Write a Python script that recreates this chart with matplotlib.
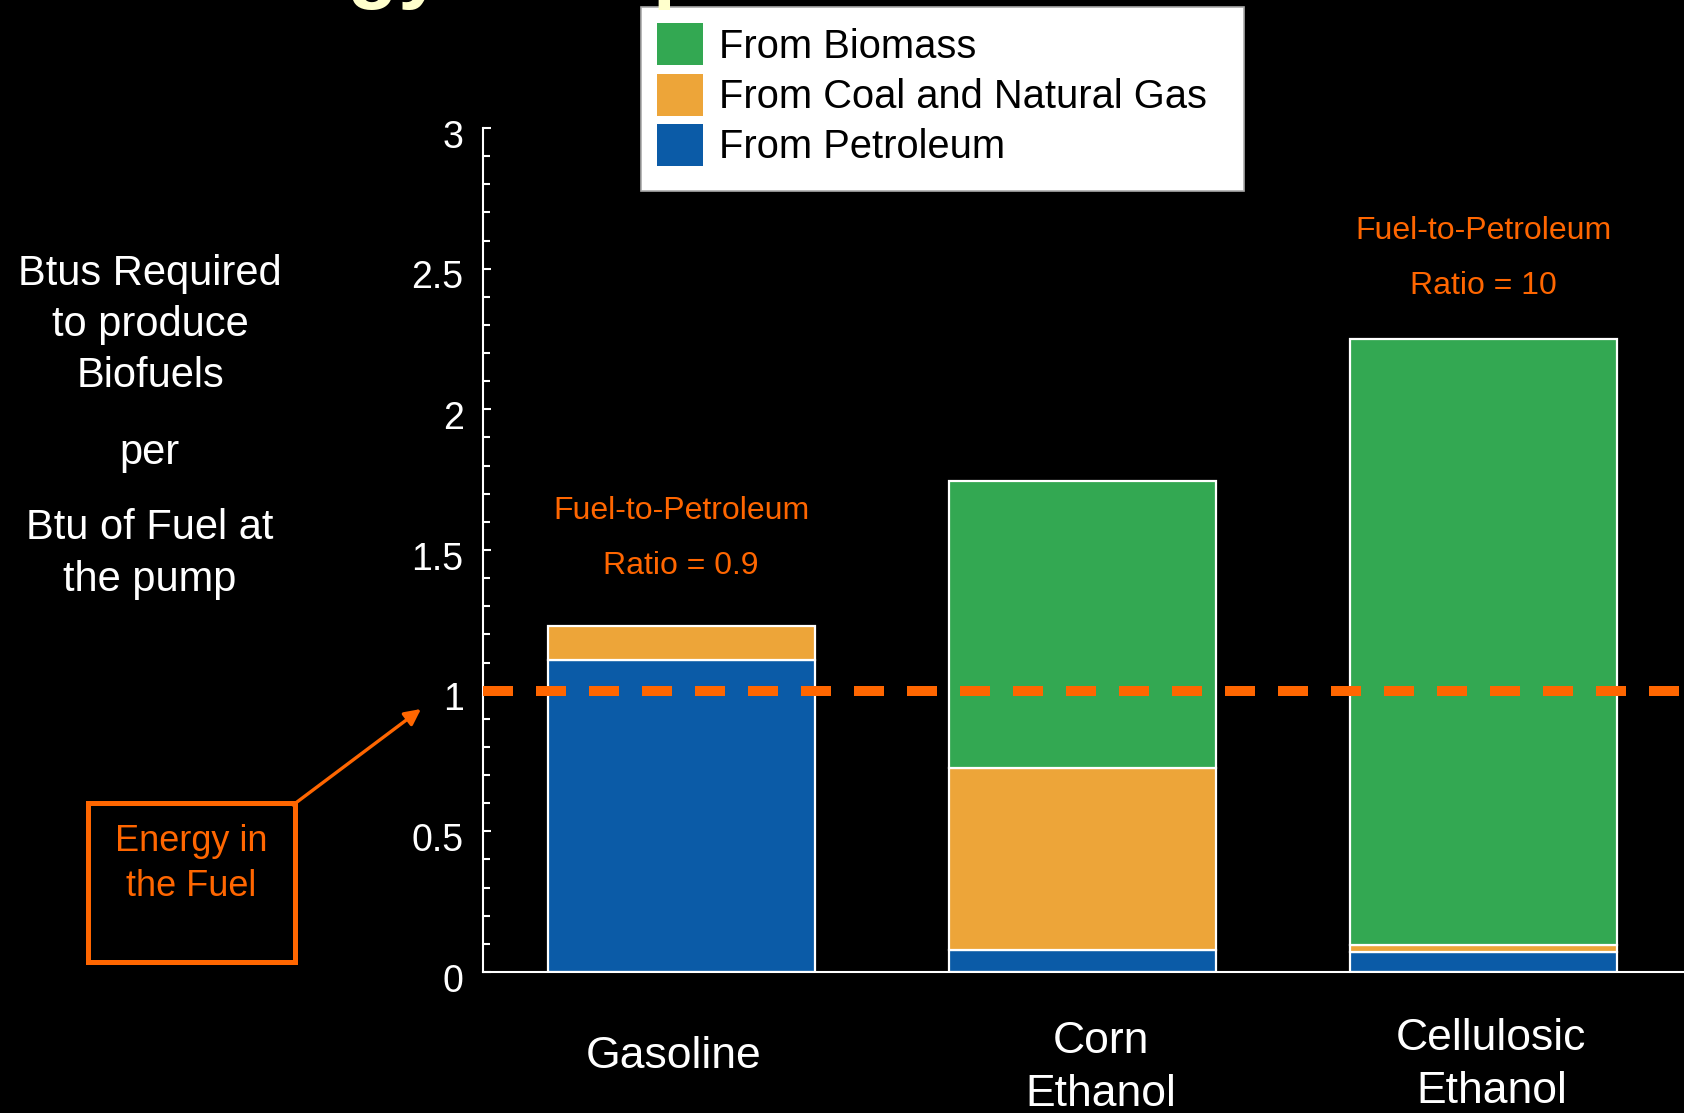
import matplotlib
matplotlib.use('Agg')
import matplotlib.pyplot as plt
from matplotlib.patches import Patch, Rectangle, FancyArrowPatch
from matplotlib.transforms import ScaledTranslation
import numpy as np

plt.rcParams['font.family'] = ['Liberation Sans', 'DejaVu Sans']

# energy inputs per Btu of fuel delivered at the pump
fuels = ['Gasoline', 'Corn\nEthanol', 'Cellulosic\nEthanol']
from_petroleum = [1.11, 0.077, 0.072]
from_coal_gas = [0.12, 0.648, 0.025]
from_biomass = [0.0, 1.02, 2.153]
energy_in_fuel = 1.0
ratio_notes = ['Fuel-to-Petroleum\nRatio = 0.9', '', 'Fuel-to-Petroleum\nRatio = 10']
note_heights = [1.54, 0.0, 2.535]
yticks = [0, 0.5, 1, 1.5, 2, 2.5, 3]
ytick_labels = ['0', '0.5', '1', '1.5', '2', '2.5', '3']
series_names = ['From Biomass', 'From Coal and Natural Gas', 'From Petroleum']

GREEN = '#33A852'
AMBER = '#EDA539'
BLUE = '#0B5BA7'
HILITE = '#FF6600'

W, H = 1684, 1113
fig = plt.figure(figsize=(W / 100, H / 100), dpi=100, facecolor='black')
ax = fig.add_axes([483 / W, 1 - 972 / H, 1 - 483 / W, (972 - 128) / H])
ax.set_facecolor('black')


def shift(artist, dx, dy):
    """Move a text artist by (dx, dy) pixels."""
    artist.set_transform(artist.get_transform()
                         + ScaledTranslation(dx / 100, dy / 100, fig.dpi_scale_trans))


x = np.arange(len(fuels))
petro = np.array(from_petroleum)
coal = np.array(from_coal_gas)
bio = np.array(from_biomass)
bw = 0.666
edge = dict(edgecolor='white', linewidth=1.6)
ax.bar(x, petro, bw, color=BLUE, **edge)
ax.bar(x, coal, bw, bottom=petro, color=AMBER, **edge)
has_bio = bio > 0
ax.bar(x[has_bio], bio[has_bio], bw, bottom=(petro + coal)[has_bio], color=GREEN, **edge)

ax.axhline(energy_in_fuel, color=HILITE, lw=7.2, dashes=(3.0, 2.3),
           dash_capstyle='butt', zorder=5)

ax.set_xlim(-0.494, 2.5)
ax.set_ylim(0, 3)
ax.set_yticks(yticks)
ax.set_yticklabels(ytick_labels)
ax.set_yticks(np.arange(0, 3.01, 0.1), minor=True)
ax.tick_params(axis='y', which='both', direction='in', colors='white',
               labelsize=27, pad=14, width=1.5)
ax.tick_params(axis='y', which='major', length=6)
ax.tick_params(axis='y', which='minor', length=5.3)
for lbl in ax.get_yticklabels():
    shift(lbl, 0, -5.5)

ax.set_xticks(x)
ax.set_xticklabels(fuels, va='center', linespacing=1.39)
ax.tick_params(axis='x', length=0, colors='white', labelsize=32, pad=69)
# nudge the category names a little
for lbl, (dx, dy) in zip(ax.get_xticklabels(), [(-8, 11), (19, 0), (8, 3)]):
    shift(lbl, dx, dy)
for side in ['top', 'right']:
    ax.spines[side].set_visible(False)
for side in ['left', 'bottom']:
    ax.spines[side].set_color('white')
    ax.spines[side].set_linewidth(1.5)

for xi, note, h in zip(x, ratio_notes, note_heights):
    if note:
        ax.text(xi, h, note, color=HILITE, fontsize=23, ha='center', va='center',
                linespacing=2.08)

# legend panel: white box drawn separately so it can be taller than its rows
fig.add_artist(Rectangle((641 / W, 1 - 191 / H), 603 / W, 183.5 / H,
                         transform=fig.transFigure, facecolor='white',
                         edgecolor='#aaaaaa', linewidth=1.2, zorder=1))
handles = [Patch(facecolor=c, edgecolor='none') for c in [GREEN, AMBER, BLUE]]
leg = fig.legend(handles, series_names, loc='upper left', mode='expand',
                 bbox_to_anchor=(641 / W, 1 - 191 / H, 603 / W, 183.5 / H),
                 fontsize=28.7, frameon=False, handlelength=1.15,
                 handleheight=1.24, handletextpad=0.4, labelspacing=0.2,
                 borderpad=0.4, borderaxespad=0)
leg.set_zorder(2)

# left-hand axis description
fig.text(150 / W, 1 - 325 / H, 'Btus Required\nto produce\nBiofuels', color='white',
         fontsize=30, ha='center', va='center', linespacing=1.36)
fig.text(150 / W, 1 - 453 / H, 'per', color='white', fontsize=30,
         ha='center', va='center')
fig.text(150 / W, 1 - 554 / H, 'Btu of Fuel at\nthe pump', color='white',
         fontsize=30, ha='center', va='center', linespacing=1.36)

# callout for the reference line
fig.add_artist(Rectangle((88 / W, 1 - 962 / H), 207 / W, 159 / H,
                         transform=fig.transFigure, fill=False,
                         edgecolor=HILITE, linewidth=3.6))
fig.text(191 / W, 1 - 864 / H, 'Energy in\nthe Fuel', color=HILITE, fontsize=26,
         ha='center', va='center', linespacing=1.36)
fig.add_artist(FancyArrowPatch((293 / W, 1 - 805 / H), (421 / W, 1 - 709 / H),
                               transform=fig.transFigure, arrowstyle='-|>',
                               mutation_scale=24, color=HILITE, lw=2.4,
                               shrinkA=0, shrinkB=0))

# heading runs off the top edge
fig.text(162 / W, 1 + 7 / H, 'Energy Comparison', color='#FFFFCC', fontsize=60,
         fontweight='bold', ha='left', va='baseline')

fig.savefig('out.png', dpi=100, facecolor='black')
